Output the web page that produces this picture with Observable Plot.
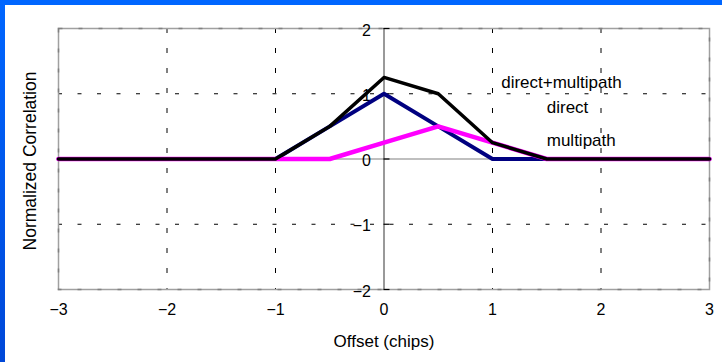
<!DOCTYPE html>
<html>
<head>
<meta charset="utf-8">
<script src="https://cdn.jsdelivr.net/npm/d3@7"></script>
<script src="https://cdn.jsdelivr.net/npm/@observablehq/plot@0.6"></script>
<style>
  html, body { margin: 0; padding: 0; background: #fff; }
  #wrap { position: relative; width: 722px; height: 362px; overflow: hidden; }
  #bt { position: absolute; left: 0; top: 0; width: 722px; height: 5px; background: #0066ff; }
  #bl { position: absolute; left: 0; top: 0; width: 5px; height: 362px; background: linear-gradient(#0066ff, #0048d8); }
  svg { position: absolute; left: 0; top: 0; }
</style>
</head>
<body>
<div id="wrap"><div id="chart"></div><div id="bt"></div><div id="bl"></div></div>
<script>
const offsets   = [-3, -1, -0.5, 0, 0.5, 1, 1.5, 3];
const direct    = [0, 0, 0.5, 1, 0.5, 0, 0, 0];
const multipath = [0, 0, 0, 0.25, 0.5, 0.25, 0, 0];
const combined  = [0, 0, 0.5, 1.25, 1.0, 0.25, 0, 0];

const xTicks = [-3, -2, -1, 0, 1, 2, 3];
const yTicks = [-2, -1, 0, 1, 2];
const xGrid = [-2, -1, 1, 2];
const yGrid = [-1, 1];

const seriesLabels = ["direct+multipath", "direct", "multipath"];
const labelX = [1.08, 1.5, 1.5];
const labelY = [1.17, 0.79, 0.28];

const xTitle = "Offset (chips)";
const yTitle = "Normalized Correlation";

const toRows = (vals) => offsets.map((x, i) => ({x, y: vals[i]}));
const fmt = d => d < 0 ? "\u2212" + Math.abs(d) : String(d);
const font = "'Liberation Sans', Arial, sans-serif";

const chart = Plot.plot({
  width: 722,
  height: 362,
  marginLeft: 58,
  marginRight: 13,
  marginTop: 28,
  marginBottom: 73,
  style: {fontFamily: font, background: "transparent", overflow: "visible"},
  x: {domain: [-3, 3], axis: null},
  y: {domain: [-2, 2], axis: null},
  marks: [
    Plot.ruleX(xGrid, {stroke: "black", strokeDasharray: "5,15", strokeWidth: 1}),
    Plot.ruleY(yGrid, {stroke: "black", strokeDasharray: "4,15.5", strokeWidth: 1}),
    Plot.frame({stroke: "#a0a0a0", strokeWidth: 1.5}),
    Plot.frame({stroke: "#808080", strokeWidth: 1.5, strokeDasharray: "4,16"}),
    Plot.ruleY([0], {stroke: "#808080", strokeWidth: 1.2}),
    Plot.ruleX([0], {stroke: "#555", strokeWidth: 1.2}),
    Plot.ruleY(yTicks, {y: d => d, x1: 0, x2: 0.055, stroke: "black", strokeWidth: 1.2}),
    Plot.text(yTicks, {x: 0, y: d => d, text: fmt, textAnchor: "end", dx: -13, dy: 2, fontSize: 16, fill: "black"}),
    Plot.text(xTicks, {x: d => d, text: fmt, frameAnchor: "bottom", dy: 25, fontSize: 16, fill: "black"}),
    Plot.text([xTitle], {frameAnchor: "bottom", dy: 57, text: d => d, fontSize: 17, fill: "black"}),
    Plot.text([yTitle], {frameAnchor: "left", textAnchor: "middle", dx: -28, dy: 2, rotate: -90, text: d => d, fontSize: 17.5, fill: "black"}),
    Plot.line(toRows(direct), {x: "x", y: "y", stroke: "#000080", strokeWidth: 4}),
    Plot.line(toRows(multipath), {x: "x", y: "y", stroke: "#ff00ff", strokeWidth: 4.5}),
    Plot.line(toRows(combined), {x: "x", y: "y", stroke: "black", strokeWidth: 3.5}),
    Plot.text(seriesLabels, {x: (d, i) => labelX[i], y: (d, i) => labelY[i], text: d => d, textAnchor: "start", fontSize: 17, fill: "black"})
  ]
});
document.getElementById("chart").appendChild(chart);
</script>
</body>
</html>
